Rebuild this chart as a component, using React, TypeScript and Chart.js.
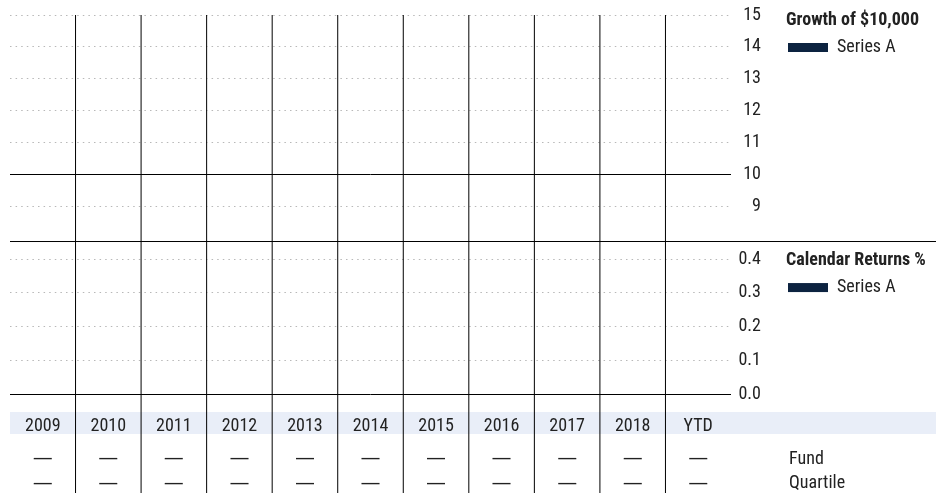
import React, { useEffect, useRef } from "react";
import { Chart, registerables } from "chart.js";

Chart.register(...registerables);

// ---- data ----
const years: string[] = ["2009", "2010", "2011", "2012", "2013", "2014", "2015", "2016", "2017", "2018", "YTD"];
const growthValues: (number | null)[] = [null, null, null, null, null, null, null, null, null, null, null];
const returnValues: (number | null)[] = [null, null, null, null, null, null, null, null, null, null, null];
const growthTicks: number[] = [9, 10, 11, 12, 13, 14, 15];
const returnTicks: number[] = [0, 0.1, 0.2, 0.3, 0.4];
const fundRow: string[] = ["—", "—", "—", "—", "—", "—", "—", "—", "—", "—", "—"];
const quartileRow: string[] = ["—", "—", "—", "—", "—", "—", "—", "—", "—", "—", "—"];
const rowLabels: string[] = ["Fund", "Quartile"];
const seriesName = "Series A";
const growthTitle = "Growth of $10,000";
const returnsTitle = "Calendar Returns %";
const growthRange = { min: 7.92, max: 15, base: 10 };
const returnRange = { min: 0, max: 0.452, base: 0 };

const NAVY = "#0c2340";
const TEXT = "#222222";
const DOT = "#b8b8b8";
const BAND = "#e9eef8";
const FONT = "'Roboto Condensed', 'Liberation Sans Narrow', 'Arial Narrow', 'DejaVu Sans Condensed', sans-serif";
const FS = 18;

const tablePlugin = {
  id: "tablePlugin",
  beforeDraw(chart: any) {
    const { ctx, chartArea } = chart;
    ctx.save();
    ctx.fillStyle = BAND;
    ctx.fillRect(chartArea.left, 412, 936 - chartArea.left, 22);
    ctx.restore();
  },
  afterDraw(chart: any) {
    const { ctx, chartArea } = chart;
    const x = chart.scales.x;
    const yG = chart.scales.yGrowth;
    const yR = chart.scales.yReturns;
    const H = chart.height;
    ctx.save();
    // boundary between panels
    ctx.strokeStyle = "#000";
    ctx.lineWidth = 1;
    ctx.beginPath();
    ctx.moveTo(chartArea.left, yG.bottom);
    ctx.lineTo(936, yG.bottom);
    ctx.stroke();
    // vertical column separators
    for (let i = 1; i < years.length; i++) {
      const px = (x.getPixelForValue(i - 1) + x.getPixelForValue(i)) / 2;
      ctx.beginPath();
      ctx.moveTo(px, chartArea.top);
      ctx.lineTo(px, H);
      ctx.stroke();
    }
    // table rows
    ctx.fillStyle = TEXT;
    ctx.textAlign = "center";
    ctx.textBaseline = "middle";
    const rows = [fundRow, quartileRow];
    const rowY = [459, 484];
    ctx.font = `20px 'DejaVu Sans', sans-serif`;
    rows.forEach((row, r) => {
      row.forEach((v, i) => {
        ctx.fillText(v, x.getPixelForValue(i), rowY[r]);
      });
    });
    ctx.font = `${FS}px ${FONT}`;
    ctx.textAlign = "left";
    const lx = chartArea.right + 58;
    rowLabels.forEach((l, r) => ctx.fillText(l, lx, rowY[r] - (r ? 1 : 0)));
    // legends
    const legend = (title: string, baseY: number, color: string) => {
      ctx.fillStyle = TEXT;
      ctx.font = `bold ${FS}px ${FONT}`;
      ctx.textAlign = "left";
      ctx.textBaseline = "alphabetic";
      ctx.fillText(title, chartArea.right + 55, baseY);
      ctx.fillStyle = color;
      ctx.fillRect(chartArea.right + 57, baseY + 18, 40, 9);
      ctx.fillStyle = TEXT;
      ctx.font = `${FS}px ${FONT}`;
      ctx.textBaseline = "middle";
      ctx.fillText(seriesName, chartArea.right + 106, baseY + 22);
    };
    legend(growthTitle, yG.top + 10, chart.data.datasets[0].borderColor);
    legend(returnsTitle, yR.getPixelForValue(0.4) + 6, chart.data.datasets[1].backgroundColor);
    ctx.restore();
  },
};

function yAxis(range: { min: number; max: number; base: number }, ticks: number[], weight: number, digits: number) {
  return {
    type: "linear",
    position: "right",
    stack: "panels",
    stackWeight: weight,
    min: range.min,
    max: range.max,
    afterBuildTicks: (s: any) => {
      s.ticks = ticks.map((v) => ({ value: v }));
    },
    afterFit: (s: any) => {
      s.width = 30;
    },
    grid: {
      drawTicks: false,
      color: (c: any) => (c.tick && c.tick.value === range.base ? "#000" : DOT),
      lineWidth: 1,
    },
    border: {
      display: false,
      dash: (c: any) => (c.tick && c.tick.value === range.base ? [] : [1.5, 4.1]),
    },
    ticks: {
      padding: 9,
      autoSkip: false,
      crossAlign: "far",
      color: TEXT,
      font: { family: FONT, size: FS, lineHeight: 0.6 },
      callback: (v: any) => (digits ? Number(v).toFixed(digits) : String(v)),
    },
  };
}

export default function App() {
  const ref = useRef<HTMLCanvasElement | null>(null);
  useEffect(() => {
    document.body.style.margin = "0";
    document.body.style.overflow = "hidden";
    const canvas = ref.current!;
    const chart = new Chart(canvas, {
      type: "bar",
      data: {
        labels: years,
        datasets: [
          {
            type: "line",
            label: seriesName,
            data: growthValues,
            yAxisID: "yGrowth",
            borderColor: NAVY,
            backgroundColor: NAVY,
            pointRadius: 0,
          } as any,
          {
            type: "bar",
            label: seriesName,
            data: returnValues,
            yAxisID: "yReturns",
            backgroundColor: NAVY,
          } as any,
        ],
      },
      options: {
        responsive: false,
        animation: false,
        layout: { padding: { left: 10, top: 15, right: 190, bottom: 59 } },
        plugins: { legend: { display: false }, tooltip: { enabled: false } },
        scales: {
          x: {
            type: "category",
            offset: true,
            grid: { display: false, drawTicks: false },
            border: { display: false },
            ticks: {
              padding: 22,
              maxRotation: 0,
              autoSkip: false,
              color: TEXT,
              font: { family: FONT, size: FS },
            },
            afterFit: (s: any) => {
              s.height = 40;
            },
          },
          yGrowth: yAxis(growthRange, growthTicks, 226.7, 0),
          yReturns: yAxis(returnRange, returnTicks, 152.6, 1),
        } as any,
      },
      plugins: [tablePlugin],
    });
    return () => chart.destroy();
  }, []);
  return <canvas ref={ref} width={951} height={493} style={{ display: "block" }} />;
}
